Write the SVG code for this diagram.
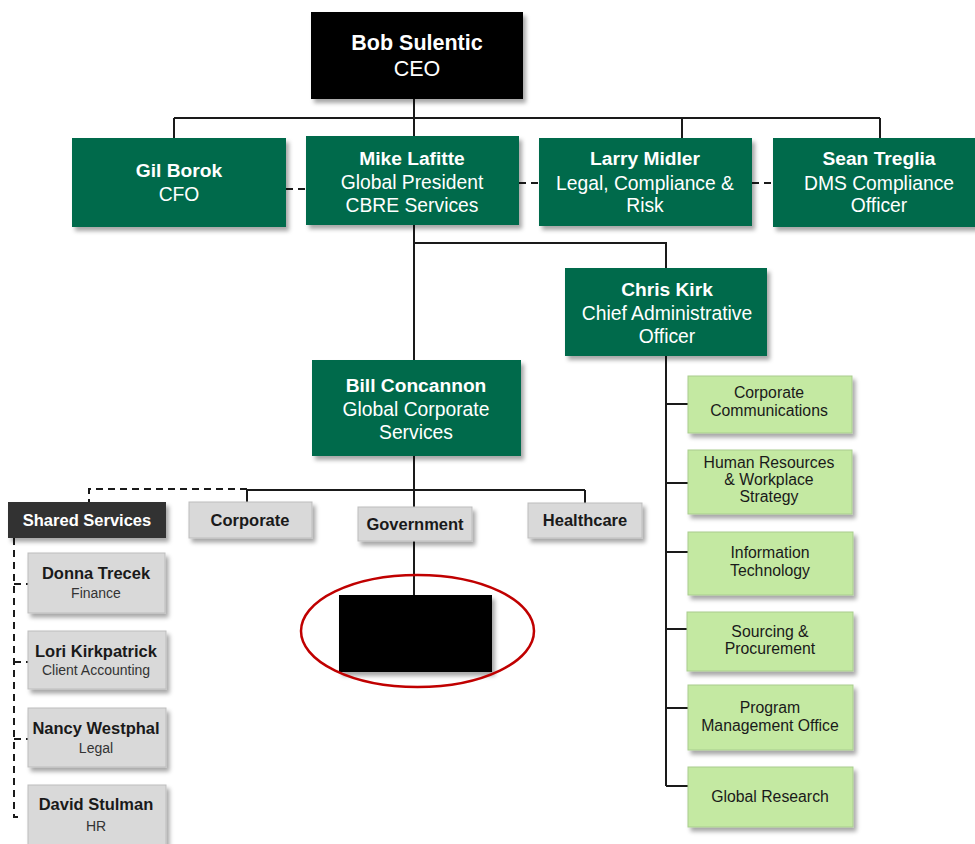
<svg xmlns="http://www.w3.org/2000/svg" width="975" height="844" viewBox="0 0 975 844">
<defs>
<filter id="sh" x="-10%" y="-10%" width="130%" height="140%">
<feDropShadow dx="3" dy="4" stdDeviation="2" flood-color="#000" flood-opacity="0.35"/>
</filter>
</defs>
<style>
text{font-family:"Liberation Sans",Arial,sans-serif;text-anchor:middle}
.green{fill:#006b4b;filter:url(#sh)}
.black{fill:#000;filter:url(#sh)}
.dark{fill:#333;filter:url(#sh)}
.gray{fill:#d9d9d9;stroke:#bdbdbd;stroke-width:1;filter:url(#sh)}
.lg{fill:#c4e9a2;stroke:#a9cc8e;stroke-width:1;filter:url(#sh)}
.wb{fill:#fff;font-weight:bold;font-size:19.2px}
.w{fill:#fff;font-size:19.3px}
.gb{fill:#1a1a1a;font-weight:bold;font-size:16.5px}
.g{fill:#333;font-size:14px}
.lt{fill:#1a1a1a;font-size:15.8px}
.ln{fill:none;stroke:#1a1a1a;stroke-width:2}
.dl{fill:none;stroke:#1a1a1a;stroke-width:2;stroke-dasharray:7,5}
</style>
<g id="connectors">
<path class="ln" d="M414,99V136M174,118H880M174,118V138M682,118V138M880,118V138"/>
<path class="dl" d="M286,189H306M519,183H539M752,183H773"/>
<path class="ln" d="M414,225V360M414,243H666V268"/>
<path class="ln" d="M666,356V786M666,404H688M666,483H688M666,552H688M666,629H688M666,708H688M666,786H688"/>
<path class="ln" d="M414,456V507M247,490H585M247,490V502M585,490V503M414,541V595"/>
<path class="dl" d="M247,489H89V502"/>
<path class="dl" d="M14,538V817H22M14,584H28M14,662H28M14,739H28"/>
</g>
<g id="ceo"><rect class="black" x="311" y="12" width="212" height="87"/>
<text x="417" y="50" class="wb" style="font-size:21.5px">Bob Sulentic</text><text x="417" y="76" class="w" style="font-size:21.5px">CEO</text></g>
<g id="gil"><rect class="green" x="72" y="138" width="214" height="89"/>
<text x="179" y="177" class="wb">Gil Borok</text><text x="179" y="201" class="w">CFO</text></g>
<g id="mike"><rect class="green" x="306" y="136" width="213" height="89"/>
<text x="412" y="165" class="wb">Mike Lafitte</text><text x="412" y="189" class="w">Global President</text><text x="412" y="212" class="w">CBRE Services</text></g>
<g id="larry"><rect class="green" x="539" y="138" width="213" height="88"/>
<text x="645" y="165" class="wb">Larry Midler</text><text x="645" y="190" class="w">Legal, Compliance &amp;</text><text x="645" y="212" class="w">Risk</text></g>
<g id="sean"><rect class="green" x="773" y="138" width="205" height="89"/>
<text x="879" y="165" class="wb">Sean Treglia</text><text x="879" y="190" class="w">DMS Compliance</text><text x="879" y="212" class="w">Officer</text></g>
<g id="chris"><rect class="green" x="565" y="268" width="202" height="88"/>
<text x="667" y="296" class="wb">Chris Kirk</text><text x="667" y="320" class="w">Chief Administrative</text><text x="667" y="343" class="w">Officer</text></g>
<g id="bill"><rect class="green" x="312" y="360" width="209" height="96"/>
<text x="416" y="392" class="wb">Bill Concannon</text><text x="416" y="416" class="w">Global Corporate</text><text x="416" y="439" class="w">Services</text></g>
<g id="shared"><rect class="dark" x="8" y="502" width="158" height="36"/>
<text x="87" y="526" class="wb" style="font-size:16.5px">Shared Services</text></g>
<g id="corporate"><rect class="gray" x="189" y="502" width="123" height="36"/>
<text x="250" y="526" class="gb">Corporate</text></g>
<g id="government"><rect class="gray" x="358" y="507" width="114" height="34"/>
<text x="415" y="530" class="gb">Government</text></g>
<g id="healthcare"><rect class="gray" x="528" y="503" width="114" height="35"/>
<text x="585" y="526" class="gb">Healthcare</text></g>
<g id="redacted"><rect class="black" x="339" y="595" width="153" height="77"/>
<ellipse cx="417.5" cy="631" rx="116.5" ry="56" fill="none" stroke="#c00000" stroke-width="2.5"/></g>
<g id="donna"><rect class="gray" x="28" y="553" width="137" height="60"/>
<text x="96" y="579" class="gb">Donna Trecek</text><text x="96" y="598" class="g">Finance</text></g>
<g id="lori"><rect class="gray" x="28" y="631" width="138" height="58"/>
<text x="96" y="657" class="gb">Lori Kirkpatrick</text><text x="96" y="675" class="g">Client Accounting</text></g>
<g id="nancy"><rect class="gray" x="28" y="708" width="138" height="59"/>
<text x="96" y="734" class="gb">Nancy Westphal</text><text x="96" y="753" class="g">Legal</text></g>
<g id="david"><rect class="gray" x="28" y="785" width="138" height="65"/>
<text x="96" y="810" class="gb">David Stulman</text><text x="96" y="831" class="g">HR</text></g>
<g id="cc"><rect class="lg" x="688" y="376" width="164" height="57"/>
<text x="769" y="398" class="lt">Corporate</text><text x="769" y="416" class="lt">Communications</text></g>
<g id="hr"><rect class="lg" x="688" y="450" width="164" height="64"/>
<text x="769" y="468" class="lt">Human Resources</text><text x="769" y="485" class="lt">&amp; Workplace</text><text x="769" y="502" class="lt">Strategy</text></g>
<g id="it"><rect class="lg" x="688" y="532" width="165" height="63"/>
<text x="770" y="558" class="lt">Information</text><text x="770" y="576" class="lt">Technology</text></g>
<g id="sp"><rect class="lg" x="687" y="612" width="166" height="59"/>
<text x="770" y="637" class="lt">Sourcing &amp;</text><text x="770" y="654" class="lt">Procurement</text></g>
<g id="pmo"><rect class="lg" x="688" y="685" width="165" height="65"/>
<text x="770" y="713" class="lt">Program</text><text x="770" y="731" class="lt">Management Office</text></g>
<g id="gr"><rect class="lg" x="688" y="767" width="165" height="60"/>
<text x="770" y="802" class="lt">Global Research</text></g>
</svg>
